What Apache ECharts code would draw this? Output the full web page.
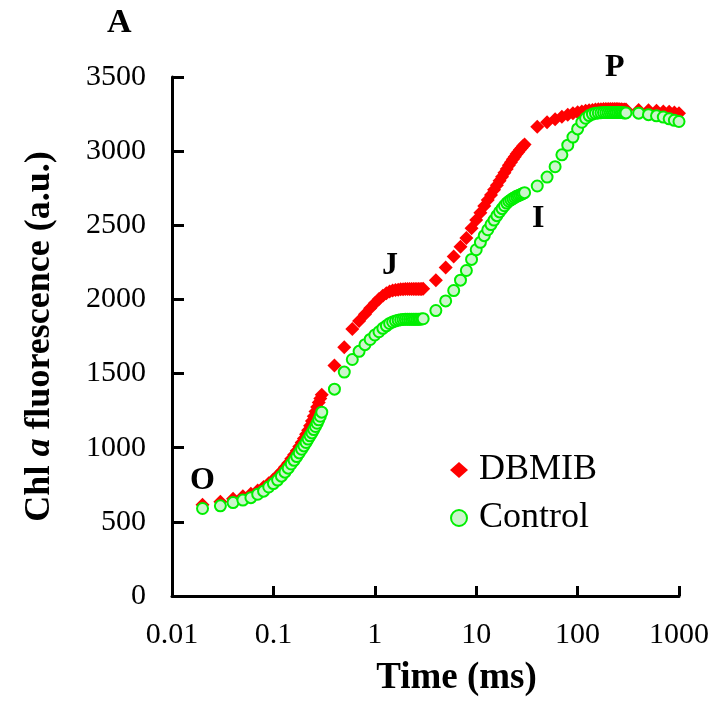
<!DOCTYPE html>
<html>
<head>
<meta charset="utf-8">
<script src="https://cdn.jsdelivr.net/npm/echarts@6/dist/echarts.min.js"></script>
<style>
  html, body { margin: 0; padding: 0; background: #fff; }
  #chart { width: 716px; height: 702px; }
</style>
</head>
<body>
<div id="chart"></div>
<script>
// sampling times (ms)
var times = [
  0.02, 0.03, 0.04, 0.05, 0.06, 0.07, 0.08, 0.09, 0.10, 0.11, 0.12, 0.13, 0.14, 0.15, 0.16,
  0.17, 0.18, 0.19, 0.20, 0.21, 0.22, 0.23, 0.24, 0.25, 0.26, 0.27, 0.28, 0.29, 0.30,
  0.4, 0.5, 0.6, 0.7, 0.8, 0.9, 1.0, 1.1, 1.2, 1.3, 1.4, 1.5, 1.6, 1.7, 1.8, 1.9, 2.0,
  2.1, 2.2, 2.3, 2.4, 2.5, 2.6, 2.7, 2.8, 2.9, 3.0,
  4, 5, 6, 7, 8, 9, 10, 11, 12, 13, 14, 15, 16, 17, 18, 19, 20, 21, 22, 23, 24, 25, 26,
  27, 28, 29, 30,
  40, 50, 60, 70, 80, 90, 100, 110, 120, 130, 140, 150, 160, 170, 180, 190, 200, 210,
  220, 230, 240, 250, 260, 270, 280, 290, 300,
  400, 500, 600, 700, 800, 900, 1000
]

var dbmib = [
  615, 635, 655, 672, 690, 712, 735, 760, 785, 812, 840, 868, 896, 925, 953,
  980, 1008, 1035, 1062, 1090, 1118, 1148, 1180, 1212, 1245, 1275, 1305, 1332, 1358,
  1555, 1678, 1800, 1855, 1900, 1940, 1975, 2003, 2025, 2042, 2053, 2060, 2064, 2066, 2068, 2069, 2070,
  2070, 2070, 2070, 2070, 2070, 2070, 2070, 2070, 2071, 2072,
  2130, 2215, 2290, 2355, 2415, 2480, 2535, 2585, 2630, 2670, 2705, 2740, 2770, 2800, 2828, 2855, 2880, 2905, 2925, 2945, 2962, 2980, 2995,
  3010, 3022, 3035, 3045,
  3165, 3195, 3215, 3232, 3245, 3255, 3262, 3268, 3272, 3275, 3278, 3280, 3282, 3283, 3284, 3285, 3285, 3285,
  3285, 3285, 3285, 3284, 3283, 3282, 3281, 3280, 3280,
  3278, 3275, 3272, 3268, 3265, 3260, 3255
]

var control = [
  590, 608, 630, 647, 663, 686, 707, 735, 758, 782, 808, 835, 862, 890, 915,
  940, 965, 990, 1012, 1035, 1058, 1080, 1100, 1122, 1143, 1165, 1188, 1212, 1240,
  1395, 1510, 1595, 1650, 1695, 1730, 1760, 1782, 1805, 1822, 1838, 1848, 1855, 1860, 1863, 1865, 1866,
  1866, 1866, 1866, 1866, 1866, 1866, 1867, 1867, 1868, 1870,
  1925, 1990, 2060, 2130, 2195, 2270, 2335, 2385, 2430, 2470, 2505, 2535, 2565, 2590, 2612, 2632, 2650, 2662, 2672, 2680, 2688, 2695, 2700,
  2705, 2710, 2715, 2720,
  2765, 2825, 2895, 2975, 3040, 3095, 3150, 3195, 3222, 3240, 3250, 3255, 3258, 3259, 3260, 3260, 3260, 3260,
  3260, 3260, 3260, 3260, 3260, 3260, 3259, 3258, 3258,
  3256, 3246, 3238, 3230, 3218, 3208, 3200
]

var xTicks = [0.01, 0.1, 1, 10, 100, 1000]
var seriesNames = ['DBMIB', 'Control']

var serif = '"Liberation Serif", "DejaVu Serif", serif'

function pairs(vals) {
  return times.map(function (t, i) { return [t, vals[i]] })
}

var chart = echarts.init(document.getElementById('chart'))
var option = {
  animation: false,
  backgroundColor: '#fff',
  grid: { left: 172, right: 37, top: 77, bottom: 104 },
  legend: {
    orient: 'vertical',
    left: 445,
    top: 447,
    itemWidth: 18,
    itemHeight: 16,
    itemGap: 12,
    data: seriesNames,
    textStyle: { fontFamily: serif, fontSize: 36, color: '#000', padding: [0, 0, 0, 6] }
  },
  xAxis: {
    type: 'log',
    logBase: 10,
    min: xTicks[0],
    max: xTicks[xTicks.length - 1],
    name: 'Time (ms)',
    nameLocation: 'middle',
    nameGap: 64,
    nameTextStyle: {
      fontFamily: serif, fontWeight: 'bold', fontSize: 37, color: '#000',
      padding: [0, 0, 0, 62]
    },
    axisLine: { lineStyle: { color: '#000', width: 3 } },
    axisTick: { inside: true, length: 10, lineStyle: { color: '#000', width: 3 } },
    axisLabel: {
      margin: 24, fontFamily: serif, fontSize: 30, color: '#000',
      formatter: function (v) { return String(+v.toPrecision(3)) }
    },
    splitLine: { show: false },
    minorTick: { show: false }
  },
  yAxis: {
    type: 'value',
    min: 0,
    max: 3500,
    interval: 500,
    name: 'Chl {i|a} fluorescence (a.u.)',
    nameLocation: 'middle',
    nameGap: 114,
    nameTextStyle: {
      fontFamily: serif, fontWeight: 'bold', fontSize: 36, color: '#000',
      rich: {
        i: { fontFamily: serif, fontWeight: 'bold', fontStyle: 'italic', fontSize: 36, color: '#000' }
      }
    },
    axisLine: { show: true, lineStyle: { color: '#000', width: 3 } },
    axisTick: { show: true, inside: true, length: 12, lineStyle: { color: '#000', width: 3 } },
    axisLabel: {
      margin: 26, fontFamily: serif, fontSize: 30, color: '#000',
      formatter: function (v) { return String(v) }
    },
    splitLine: { show: false }
  },
  graphic: [
    { type: 'text', left: 107, top: 6, style: { text: 'A', font: 'bold 34px ' + serif, fill: '#000' } },
    { type: 'text', left: 605, top: 52, style: { text: 'P', font: 'bold 32px ' + serif, fill: '#000' } },
    { type: 'text', left: 382, top: 250, style: { text: 'J', font: 'bold 32px ' + serif, fill: '#000' } },
    { type: 'text', left: 532, top: 203, style: { text: 'I', font: 'bold 32px ' + serif, fill: '#000' } },
    { type: 'text', left: 190, top: 465, style: { text: 'O', font: 'bold 32px ' + serif, fill: '#000' } }
  ],
  series: [
    {
      name: seriesNames[0],
      type: 'scatter',
      symbol: 'diamond',
      symbolSize: [14, 14],
      itemStyle: { color: '#ff0000', opacity: 1 },
      data: pairs(dbmib)
    },
    {
      name: seriesNames[1],
      type: 'scatter',
      symbol: 'circle',
      symbolSize: 11,
      itemStyle: { color: '#ccf5cc', borderColor: '#00ee00', borderWidth: 2, opacity: 1 },
      data: pairs(control)
    }
  ]
}
option && chart.setOption(option)
</script>
</body>
</html>
